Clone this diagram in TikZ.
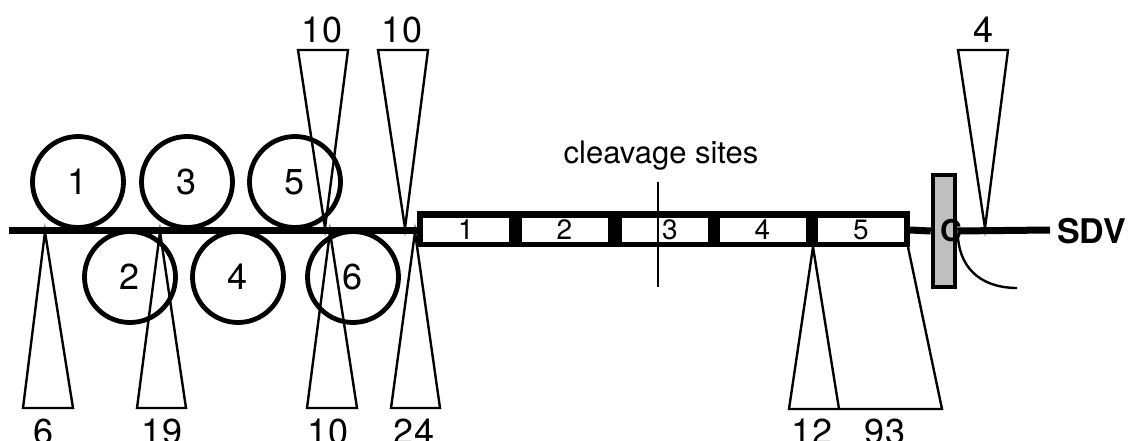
\documentclass[tikz,border=0pt]{standalone}
\usepackage{fontspec}
\setmainfont{TeX Gyre Heros}
\begin{document}
\begin{tikzpicture}[x=1pt,y=-1pt,
  roll/.style={circle,draw,line width=4.8pt,minimum size=91pt,inner sep=0pt,font=\fontsize{36}{36}\selectfont},
  wedge/.style={draw,line width=2.4pt,line join=miter},
  num/.style={font=\fontsize{36}{36}\selectfont,inner sep=0pt},
  seg/.style={fill=white,minimum width=86pt,minimum height=24pt,inner sep=0pt,font=\fontsize{28}{28}\selectfont},
  backbone/.style={line width=7pt}]
\useasboundingbox (0,0) rectangle (1134,441);

% rollers above and below the strand
\node[roll] (r1) at (78,182) {1};
\node[roll] (r3) at (187,182) {3};
\node[roll] (r5) at (295,182) {5};
\node[roll] (r2) at (130,277) {2};
\node[roll] (r4) at (238,277) {4};
\node[roll] (r6) at (353,277) {6};

% the domain box
\coordinate (bl) at (417,211);
\coordinate (br) at (910,247);
\fill (bl) rectangle (br);
\node[seg] (s1) at (466,229.5) {1};
\node[seg] (s2) at (564.5,229.5) {2};
\node[seg] (s3) at (665,229.5) {\hspace*{10pt}3};
\node[seg] (s4) at (762.5,229.5) {4};
\node[seg] (s5) at (861,229.5) {5};

% strand
\coordinate (start) at (9,230);
\coordinate (end) at (1050,230);
\draw[backbone] (start) -- (417,230);

% membrane bar with C
\node[draw,line width=4.5pt,fill=black!25,minimum width=22pt,minimum height=112pt,inner sep=0pt] (bar) at (944,231) {};
\draw[backbone] (910,230) -- (bar.west);
\draw[backbone] (bar.east) -- (end);
\node[font=\bfseries\fontsize{30}{30}\selectfont,inner sep=0pt] (c) at (951,231) {C};
\draw[line width=2.4pt] (958,238) .. controls (961,272) and (985,288) .. (1017,288);
\node[font=\bfseries\fontsize{34}{34}\selectfont,anchor=west,inner sep=0pt] (sdv) at (1057,231) {SDV};

% cleavage site
\coordinate (cut1) at (658,182);
\coordinate (cut2) at (658,287);
\draw[line width=2.4pt] (cut1) -- (cut2);
\node[font=\fontsize{31}{31}\selectfont,inner sep=0pt] (cl) at (661,156) {cleavage sites};

% wedges above
\draw[wedge] (298,50) -- (348,50) -- (325,228) -- cycle;
\node[num] at (322,30) {10};
\draw[wedge] (378,50) -- (428,50) -- (405,228) -- cycle;
\node[num] at (402,30) {10};
\draw[wedge] (958,50) -- (1008,50) -- (985,228) -- cycle;
\node[num] at (983,30) {4};

% wedges below
\draw[wedge] (45,232) -- (73,408) -- (23,408) -- cycle;
\node[num] at (44,432) {6};
\draw[wedge] (160,232) -- (186,408) -- (137,408) -- cycle;
\node[num] at (162,432) {19};
\draw[wedge] (330,232) -- (357,408) -- (307,408) -- cycle;
\node[num] at (328,432) {10};
\draw[wedge] (415,232) -- (440,408) -- (391,408) -- cycle;
\node[num] at (414,432) {24};
\draw[wedge] (813,247) -- (839,409) -- (789,409) -- cycle;
\draw[wedge] (908,247) -- (942,409) -- (839,409);
\node[num] at (812,432) {12};
\node[num] at (885,432) {93};
\end{tikzpicture}
\end{document}
